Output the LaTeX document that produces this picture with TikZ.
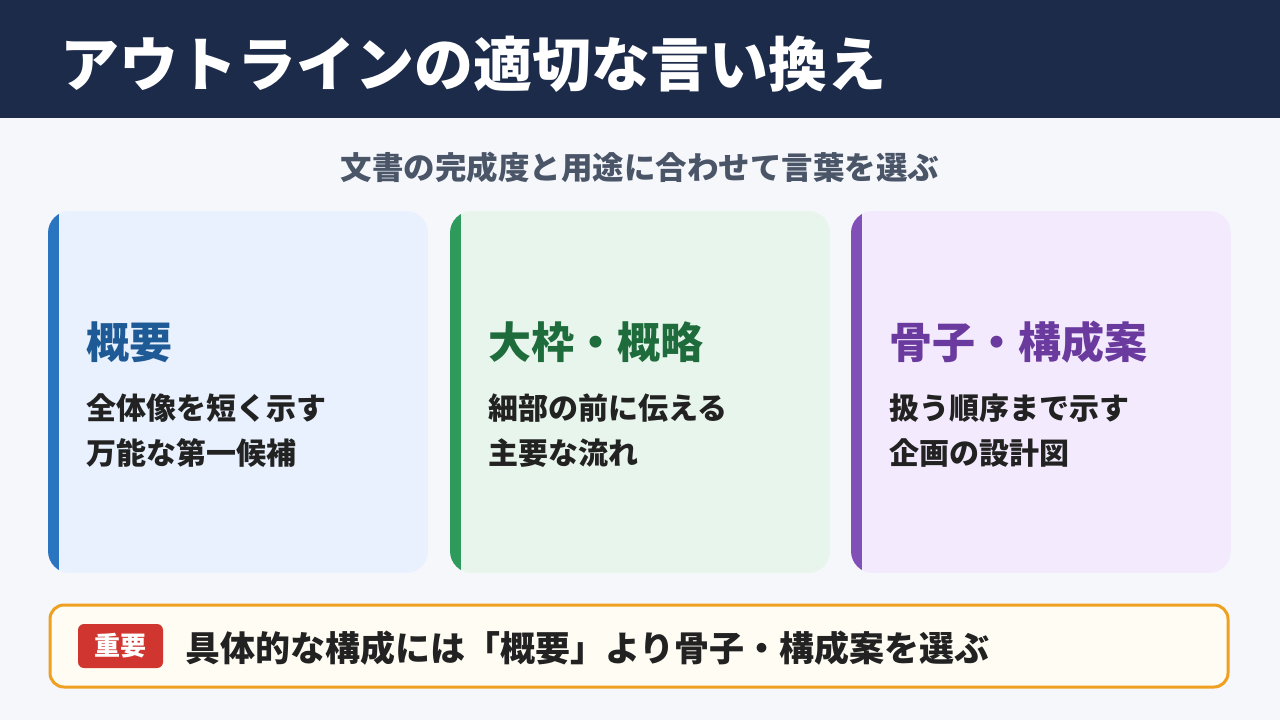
\documentclass[tikz,border=0pt]{standalone}
\usepackage{fontspec}
\setmainfont{Noto Sans CJK JP}
\definecolor{navy}{HTML}{1C2B4A}
\definecolor{bg}{HTML}{F5F7FB}
\definecolor{sub}{HTML}{4A5568}
\definecolor{txt}{HTML}{222222}
\definecolor{cA}{HTML}{2A74C0}\definecolor{fA}{HTML}{E8F1FD}\definecolor{tA}{HTML}{1E5A96}
\definecolor{cB}{HTML}{2E9A5C}\definecolor{fB}{HTML}{E8F5EC}\definecolor{tB}{HTML}{1E6B3C}
\definecolor{cC}{HTML}{8050B8}\definecolor{fC}{HTML}{F3EBFD}\definecolor{tC}{HTML}{6B3A9E}
\definecolor{org}{HTML}{F0A020}\definecolor{ofill}{HTML}{FFFCF3}\definecolor{red}{HTML}{D0352F}
\tikzset{
 ttl/.style={anchor=west,inner sep=0pt,font=\fontsize{43}{48}\selectfont\bfseries},
 ln/.style={anchor=west,inner sep=0pt,text=txt,font=\fontsize{30}{34}\selectfont\bfseries},
}
\newcommand{\mycard}[7]{%
 \begin{scope}
 \clip[rounded corners=22pt] (#1,211) rectangle (#1+380,573);
 \fill[#3] (#1,211) rectangle (#1+380,573);
 \fill[#2] (#1,211) rectangle (#1+11,573);
 \end{scope}
 \node[ttl,text=#4] (t#1) at (#1+38,342) {#5};
 \node[ln] (a#1) at (#1+38,408) {#6};
 \node[ln] (b#1) at (#1+38,453) {#7};
}
\begin{document}
\begin{tikzpicture}[x=1pt,y=-1pt]
\useasboundingbox (0,0) rectangle (1280,720);
\fill[bg] (0,0) rectangle (1280,720);
\fill[navy] (0,0) rectangle (1280,118);
\node[anchor=west,inner sep=0pt,text=white,font=\fontsize{59}{64}\selectfont\bfseries] (title) at (60,64) {アウトラインの適切な言い換え};
\node[text=sub,font=\fontsize{31.5}{36}\selectfont\bfseries] (subt) at (640,167) {文書の完成度と用途に合わせて言葉を選ぶ};
\mycard{48}{cA}{fA}{tA}{概要}{全体像を短く示す}{万能な第一候補}
\mycard{450}{cB}{fB}{tB}{大枠・概略}{細部の前に伝える}{主要な流れ}
\mycard{851}{cC}{fC}{tC}{骨子・構成案}{扱う順序まで示す}{企画の設計図}
\draw[org,line width=3pt,fill=ofill,rounded corners=14pt] (50,605) rectangle (1228,687);
\fill[red,rounded corners=6pt] (78,624) rectangle (163,668);
\node[text=white,font=\fontsize{26}{30}\selectfont\bfseries] (badge) at (120.5,646) {重要};
\node[anchor=west,inner sep=0pt,text=txt,font=\fontsize{35}{40}\selectfont\bfseries] (note) at (185,648) {具体的な構成には「概要」より骨子・構成案を選ぶ};
\end{tikzpicture}
\end{document}
